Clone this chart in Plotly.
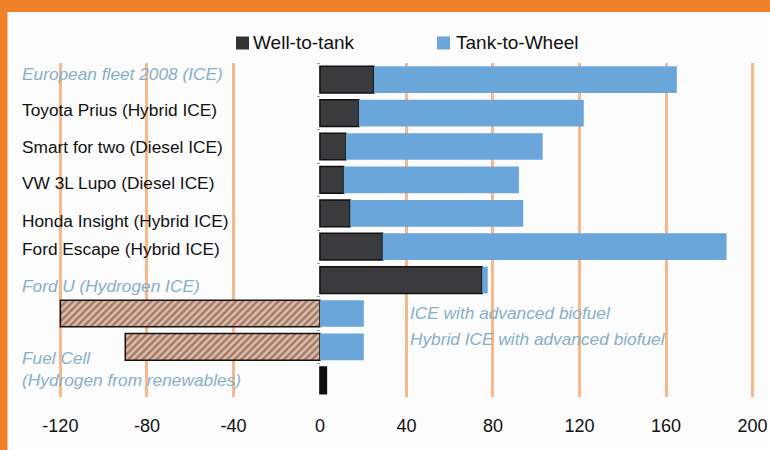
import plotly.graph_objects as go

# ---- data ----
rows = [
    "European fleet 2008 (ICE)",
    "Toyota Prius (Hybrid ICE)",
    "Smart for two (Diesel ICE)",
    "VW 3L Lupo (Diesel ICE)",
    "Honda Insight (Hybrid ICE)",
    "Ford Escape (Hybrid ICE)",
    "Ford U (Hydrogen ICE)",
    "ICE with advanced biofuel",
    "Hybrid ICE with advanced biofuel",
    "Fuel Cell<br>(Hydrogen from renewables)",
]
well_to_tank = [25, 18, 12, 11, 14, 29, 75, -120, -90, 3]
tank_to_wheel = [140, 104, 91, 81, 80, 159, 2.6, 20.3, 20.3, 0]
hatched = [False, False, False, False, False, False, False, True, True, False]
label_style = ["grey", "black", "black", "black", "black", "black", "grey", "grey", "grey", "grey"]
label_side = ["left", "left", "left", "left", "left", "left", "left", "right", "right", "left"]
label_shift = [6, 3, 0, -3, -8, -2.5, -6, 1, 7.5, 11]
x_ticks = [-120, -80, -40, 0, 40, 80, 120, 160, 200]
x_tick_text = ["-120", "-80", "-40", "0", "40", "80", "120", "160", "200"]
series_names = ["Well-to-tank", "Tank-to-Wheel"]

# ---- layout geometry (pixels) ----
W, H = 770, 450
L, R, T, B = 50, 759, 63, 397
FONT = "Liberation Sans, Arial, Helvetica, sans-serif"
ORANGE = "#f0812a"
GRID = "#f7b88a"
BG = "#fcfcfd"
DARK = "#3b3b3d"
BLUE = "#6ba6da"
GREY_TXT = "#88afc8"


def px_x(p):
    return (p - L) / (R - L)


def px_y(p):
    return (B - p) / (B - T)


wtt_colors = []
for i, h in enumerate(hatched):
    if h:
        wtt_colors.append("#eab9a0")
    elif i == len(hatched) - 1:
        wtt_colors.append("#0e0e0e")
    else:
        wtt_colors.append(DARK)

fig = go.Figure()
fig.add_trace(go.Bar(
    y=rows, x=well_to_tank, orientation="h", name=series_names[0],
    marker=dict(
        color=wtt_colors,
        line=dict(color="#111111", width=1.5),
        pattern=dict(shape=["/" if h else "" for h in hatched],
                     fgcolor="#2c3232", size=5, solidity=0.5, fillmode="overlay"),
    ),
    width=0.8, showlegend=False, hoverinfo="skip",
))
fig.add_trace(go.Bar(
    y=rows, x=tank_to_wheel, orientation="h", name=series_names[1],
    marker=dict(color=BLUE, line=dict(width=0)),
    width=0.8, showlegend=False, hoverinfo="skip",
))

annotations = []
for i, name in enumerate(rows):
    col = "#111111" if label_style[i] == "black" else GREY_TXT
    txt = name if label_style[i] == "black" else "<i>" + name + "</i>"
    xpos = px_x(20) if label_side[i] == "left" else px_x(408)
    annotations.append(dict(
        x=xpos, xref="paper", y=name, yref="y", yshift=label_shift[i],
        text=txt, showarrow=False, xanchor="left", yanchor="middle", align="left",
        font=dict(family=FONT, size=17.3, color=col)))

# legend (text + squares)
annotations.append(dict(x=px_x(251), xref="paper", y=px_y(43), yref="paper",
                        text=series_names[0], showarrow=False, xanchor="left", yanchor="middle",
                        font=dict(family=FONT, size=19, color="#111111")))
annotations.append(dict(x=px_x(454), xref="paper", y=px_y(43), yref="paper",
                        text=series_names[1], showarrow=False, xanchor="left", yanchor="middle",
                        font=dict(family=FONT, size=19, color="#111111")))

shapes = [
    # orange frame (top band and left band)
    dict(type="rect", xref="paper", yref="paper", x0=px_x(0), x1=px_x(W), y0=px_y(12), y1=px_y(0),
         fillcolor=ORANGE, line=dict(width=0), layer="above"),
    dict(type="rect", xref="paper", yref="paper", x0=px_x(0), x1=px_x(7.5), y0=px_y(H), y1=px_y(0),
         fillcolor=ORANGE, line=dict(width=0), layer="above"),
    # legend squares
    dict(type="rect", xref="paper", yref="paper", x0=px_x(236), x1=px_x(249), y0=px_y(49.5), y1=px_y(36.5),
         fillcolor="#333333", line=dict(width=0)),
    dict(type="rect", xref="paper", yref="paper", x0=px_x(437), x1=px_x(450), y0=px_y(49.5), y1=px_y(36.5),
         fillcolor=BLUE, line=dict(width=0)),
]

fig.update_layout(
    width=W, height=H,
    margin=dict(l=L, r=W - R, t=T, b=H - B, pad=0, autoexpand=False),
    paper_bgcolor=BG, plot_bgcolor=BG,
    barmode="relative", bargap=0.2,
    font=dict(family=FONT, color="#111111"),
    xaxis=dict(range=[-124.8, 203.0], tickmode="array", tickvals=x_ticks, ticktext=x_tick_text,
               showgrid=True, gridcolor=GRID, gridwidth=2.5,
               zeroline=True, zerolinecolor=BG, zerolinewidth=3,
               ticks="", ticklabelstandoff=16, automargin=False,
               tickfont=dict(family=FONT, size=18, color="#111111"),
               showline=False, fixedrange=True),
    yaxis=dict(type="category", categoryorder="array", categoryarray=rows,
               range=[9.5, -0.5], showticklabels=False, showgrid=False, zeroline=False,
               ticks="outside", tickson="boundaries", ticklen=3, tickcolor="#999999",
               anchor="free", position=px_x(320), showline=False, fixedrange=True,
               automargin=False),
    annotations=annotations,
    shapes=shapes,
)

fig.write_html("out.html", config={"displayModeBar": False},
               post_script="document.body.style.margin='0px';document.body.style.overflow='hidden';")
